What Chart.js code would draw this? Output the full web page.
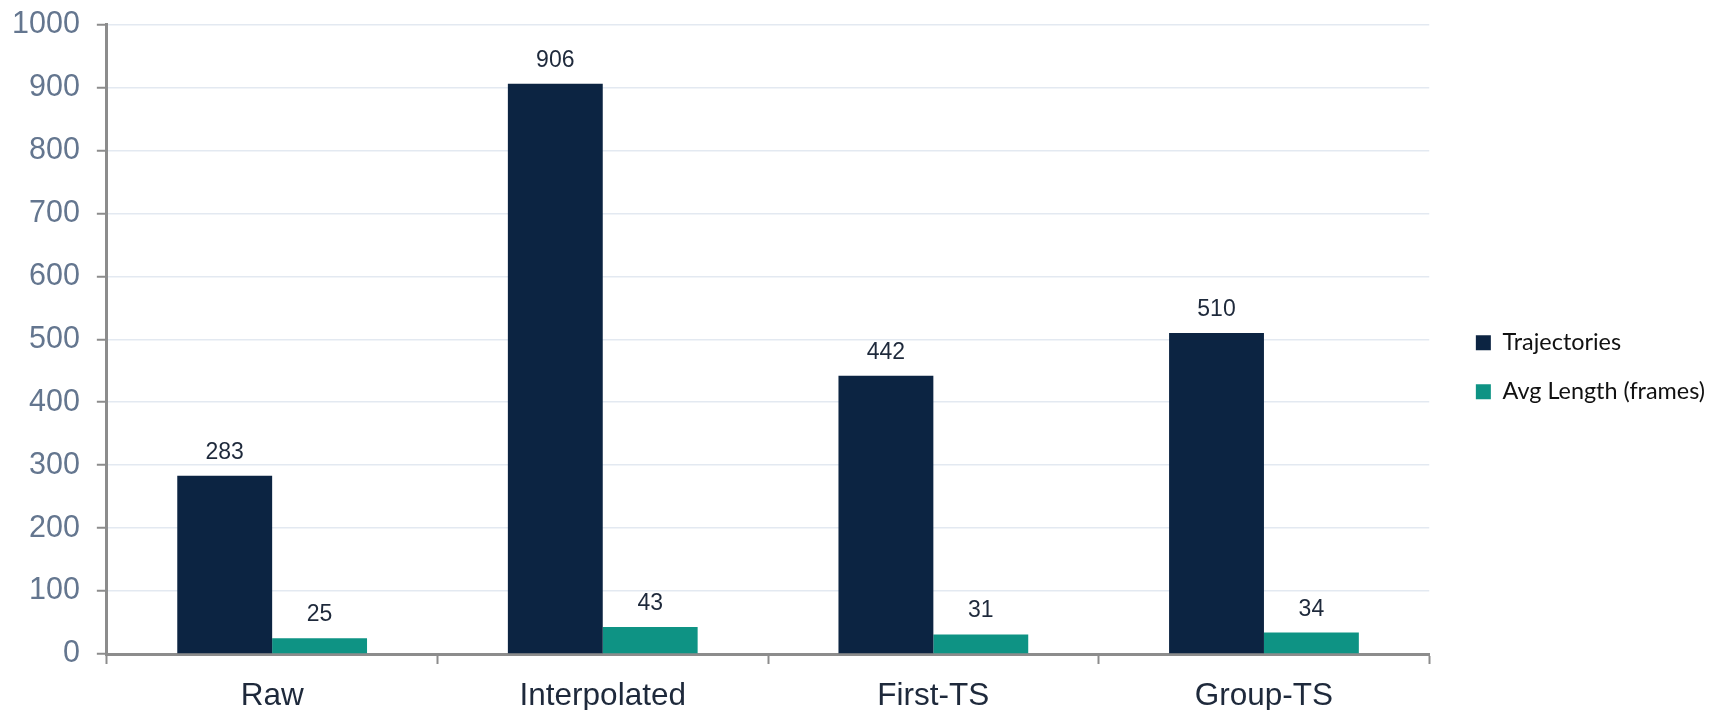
<!DOCTYPE html>
<html>
<head>
<meta charset="utf-8">
<script src="https://cdn.jsdelivr.net/npm/chart.js@4/dist/chart.umd.min.js"></script>
<style>
  html, body { margin: 0; padding: 0; background: #fff; }
  #wrap { width: 1713px; height: 710px; }
</style>
</head>
<body>
<div id="wrap"><canvas id="trajChart"></canvas></div>
<script>
const categories = ['Raw', 'Interpolated', 'First-TS', 'Group-TS'];
const trajectories = [283, 906, 442, 510];
const avgLength = [25, 43, 31, 34];
const yMin = 0;
const yMax = 1000;
const yStep = 100;

// value labels above each bar
const barValues = {
  id: 'barValues',
  afterDatasetsDraw(chart) {
    const ctx = chart.ctx;
    ctx.save();
    ctx.font = '23px "Liberation Sans", Arial, sans-serif';
    ctx.fillStyle = '#1e293b';
    ctx.textAlign = 'center';
    ctx.textBaseline = 'alphabetic';
    chart.data.datasets.forEach((ds, i) => {
      chart.getDatasetMeta(i).data.forEach((bar, j) => {
        ctx.fillText(String(ds.data[j]), bar.x, bar.y - 17);
      });
    });
    ctx.restore();
  }
};

const ctx = document.getElementById('trajChart').getContext('2d');
new Chart(ctx, {
  type: 'bar',
  data: {
    labels: categories,
    datasets: [
      {
        label: 'Trajectories',
        data: trajectories,
        backgroundColor: '#0c2442'
      },
      {
        label: 'Avg Length (frames)',
        data: avgLength,
        backgroundColor: '#0e9384'
      }
    ]
  },
  options: {
    responsive: true,
    maintainAspectRatio: false,
    animation: false,
    devicePixelRatio: 1,
    categoryPercentage: 0.574,
    barPercentage: 1,
    layout: { padding: { top: 24.5, left: 12, right: -2, bottom: 0 } },
    plugins: {
      tooltip: { enabled: false },
      legend: {
        position: 'right',
        labels: {
          font: { family: 'Lato, "Noto Sans", sans-serif', size: 23.4 },
          color: '#111',
          boxWidth: 15,
          boxHeight: 15,
          padding: 25.6
        }
      }
    },
    scales: {
      x: {
        grid: {
          offset: true,
          drawOnChartArea: false,
          tickLength: 10,
          tickColor: '#8c8c8c',
          tickWidth: 2
        },
        border: { color: '#8c8c8c', width: 3 },
        ticks: {
          color: '#1e293b',
          padding: 13,
          font: { family: '"Liberation Sans", Arial, sans-serif', size: 31.5 }
        },
        afterFit(scale) {
          scale.paddingLeft = 0;
          scale.paddingRight = 0;
          scale.height = 56;
        }
      },
      y: {
        min: yMin,
        max: yMax,
        ticks: {
          stepSize: yStep,
          color: '#64768f',
          padding: 17,
          callback: v => String(v),
          font: { family: '"Liberation Sans", Arial, sans-serif', size: 30.5 }
        },
        grid: {
          color: '#e3e9f1',
          lineWidth: 1.5,
          tickLength: 10,
          tickColor: '#8c8c8c',
          tickWidth: 2
        },
        border: { color: '#8c8c8c', width: 3 },
        afterFit(scale) {
          // fit() counts the label padding twice
          scale.width -= scale.options.ticks.padding;
          scale.paddingTop = 0;
        }
      },
      // empty spacer between the plot and the legend
      gap: {
        type: 'linear',
        position: 'right',
        grid: { display: false, drawTicks: false },
        ticks: { display: false },
        border: { display: false },
        afterFit(scale) { scale.width = 21; }
      }
    }
  },
  plugins: [barValues]
});
</script>
</body>
</html>
